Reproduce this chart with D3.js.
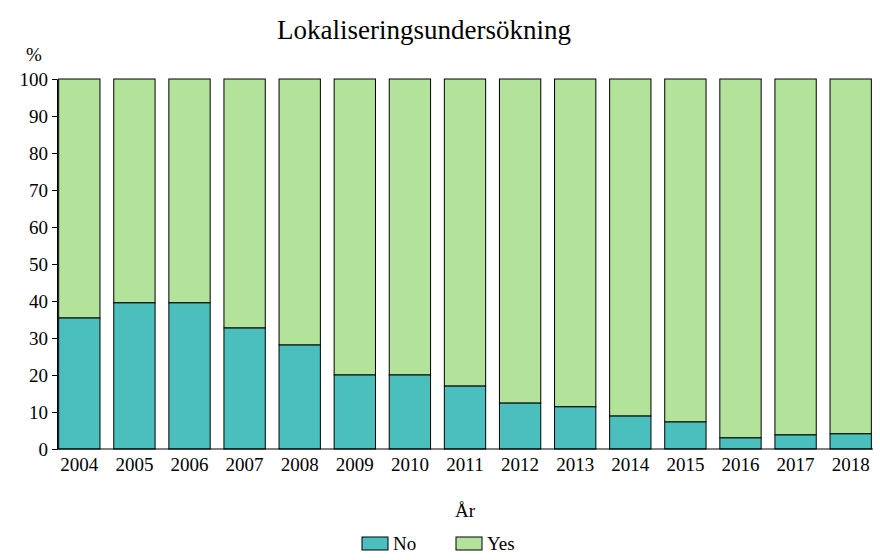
<!DOCTYPE html>
<html><head><meta charset="utf-8">
<script src="https://cdn.jsdelivr.net/npm/d3@7"></script>
<style>body{margin:0;background:#fff}text{font-family:"Liberation Serif",serif !important}</style>
</head><body><svg id="c" width="880" height="560"></svg>
<script>
const years = ['2004','2005','2006','2007','2008','2009','2010','2011','2012','2013','2014','2015','2016','2017','2018'];
const no = [35.4,39.5,39.5,32.7,28.1,20,20,17,12.4,11.4,8.9,7.3,3,3.8,4.1];
const yes = no.map(v => 100 - v);
const yTicks = [0,10,20,30,40,50,60,70,80,90,100];
const colors = {No:'#4bbfbd', Yes:'#b3e29b'};

const svg = d3.select('#c');
const L = 57, R = 873, T = 79, B = 449;
const x = d3.scaleBand().domain(years).range([L, R]).paddingInner(0.25).paddingOuter(0.03);
const y = d3.scaleLinear().domain([0,100]).range([B, T]);

svg.append('text').attr('x', 424).attr('y', 39).attr('text-anchor','middle')
	.style('font-size','27px').text('Lokaliseringsundersökning');
svg.append('text').attr('x', 34).attr('y', 61).attr('text-anchor','middle')
	.style('font-size','19px').text('%');

const g = svg.append('g');
years.forEach((yr, i) => {
	g.append('rect').attr('x', x(yr)).attr('width', x.bandwidth())
		.attr('y', y(100)).attr('height', y(no[i]) - y(100))
		.attr('fill', colors.Yes).attr('stroke','#000').attr('stroke-width',1);
	g.append('rect').attr('x', x(yr)).attr('width', x.bandwidth())
		.attr('y', y(no[i])).attr('height', B - y(no[i]))
		.attr('fill', colors.No).attr('stroke','#000').attr('stroke-width',1);
});

const ya = svg.append('g').attr('transform', `translate(${L},0)`)
	.call(d3.axisLeft(y).tickValues(yTicks).tickSize(5).tickPadding(4))
	.attr('font-family', null).attr('font-size', null);
ya.selectAll('text').style('font-size','19px').attr('fill','#000');
ya.selectAll('line,path').attr('stroke','#000');

const xa = svg.append('g').attr('transform', `translate(0,${B})`)
	.call(d3.axisBottom(x).tickSize(0).tickPadding(9))
	.attr('font-family', null).attr('font-size', null);
xa.selectAll('text').style('font-size','19px').attr('fill','#000');
xa.select('path').attr('d', `M${L},0H${R}`).attr('stroke','#000');

svg.append('text').attr('x', 465).attr('y', 517).attr('text-anchor','middle')
	.style('font-size','19px').text('År');

const leg = [['No', 362], ['Yes', 456]];
leg.forEach(([k, lx]) => {
	svg.append('rect').attr('x', lx).attr('y', 537).attr('width', 26).attr('height', 13)
		.attr('fill', colors[k]).attr('stroke','#000');
	svg.append('text').attr('x', lx + 31).attr('y', 550).style('font-size','19px').text(k);
});
</script></body></html>
